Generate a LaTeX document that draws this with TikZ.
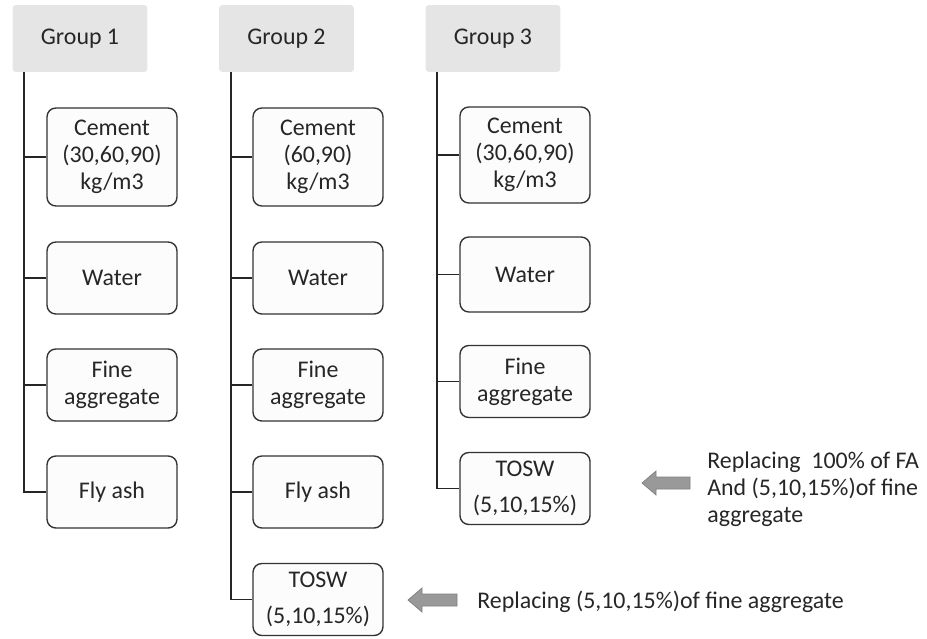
\documentclass[tikz,border=0pt]{standalone}
\usepackage{fontspec}
\setmainfont{Carlito}
\usepackage{xcolor}
\usepackage{tikz}

\tikzset{
    grouphead/.style={fill=black!10,rounded corners=2pt,minimum width=2.7cm,minimum height=1.34cm,inner sep=0pt},
    item/.style={draw=black!80,fill=black!1,rounded corners=5pt,thick,minimum width=2.6cm,minimum height=1.44cm,align=center,inner sep=1pt},
    tall/.style={minimum height=1.96cm},
    tree/.style={draw=black!85,line width=1.1pt},
    graybar/.style={fill=black!40,draw=black!50,thin},
    note/.style={anchor=west,align=left,inner sep=0pt}
}

\begin{document}
\begin{tikzpicture}[x=0.02cm,y=-0.02cm,font=\fontsize{13.6}{15.3}\selectfont,text=black!85]
        \useasboundingbox (0,0) rectangle (927,639);
        % group headers
        \node [grouphead] (g1) at (80,38.5) {Group 1};
        \node [grouphead] (g2) at (286.5,38.5) {Group 2};
        \node [grouphead] (g3) at (493,38.5) {Group 3};
        \foreach \g in {1,2,3}
            \coordinate (r\g) at ([xshift=0.24cm]g\g.south west);
        % group 1
        \node [item,tall] (c1) at (112,157) {Cement\\(30,60,90)\\kg/m3};
        \node [item] (w1) at (112,278) {Water};
        \node [item] (f1) at (112,385) {Fine\\aggregate};
        \node [item] (a1) at (112,492) {Fly ash};
        % group 2
        \node [item,tall] (c2) at (318,157) {Cement\\(60,90)\\kg/m3};
        \node [item] (w2) at (318,278) {Water};
        \node [item] (f2) at (318,385) {Fine\\aggregate};
        \node [item] (a2) at (318,492) {Fly ash};
        \node [item] (t2) at (318,599.5) {TOSW\\[5pt](5,10,15\%)};
        % group 3
        \node [item,tall,minimum height=1.92cm] (c3) at (525,155) {Cement\\(30,60,90)\\kg/m3};
        \node [item,minimum height=1.5cm] (w3) at (525,274.5) {Water};
        \node [item] (f3) at (525,381.5) {Fine\\aggregate};
        \node [item] (t3) at (525,488.5) {TOSW\\[5pt](5,10,15\%)};
        \foreach \n in {c1,w1,f1,a1}
            \draw [tree] (r1) |- (\n.west);
        \foreach \n in {c2,w2,f2,a2,t2}
            \draw [tree] (r2) |- (\n.west);
        \foreach \n in {c3,w3,f3,t3}
            \draw [tree] (r3) |- (\n.west);
        % notes with block arrows
        \fill [graybar] (642,483) -- ++(14,-12) -- ++(0,6) -- ++(34,0) -- ++(0,12) -- ++(-34,0) -- ++(0,6) -- cycle;
        \node [note] (n3) at (707,489) {Replacing\ \ 100\% of FA\\And (5,10,15\%)of fine\\aggregate};
        \fill [graybar] (408,600) -- ++(14,-12) -- ++(0,6) -- ++(35,0) -- ++(0,12) -- ++(-35,0) -- ++(0,6) -- cycle;
        \node [note] (n2) at (477,602) {Replacing (5,10,15\%)of fine aggregate};
    \end{tikzpicture}
\end{document}
